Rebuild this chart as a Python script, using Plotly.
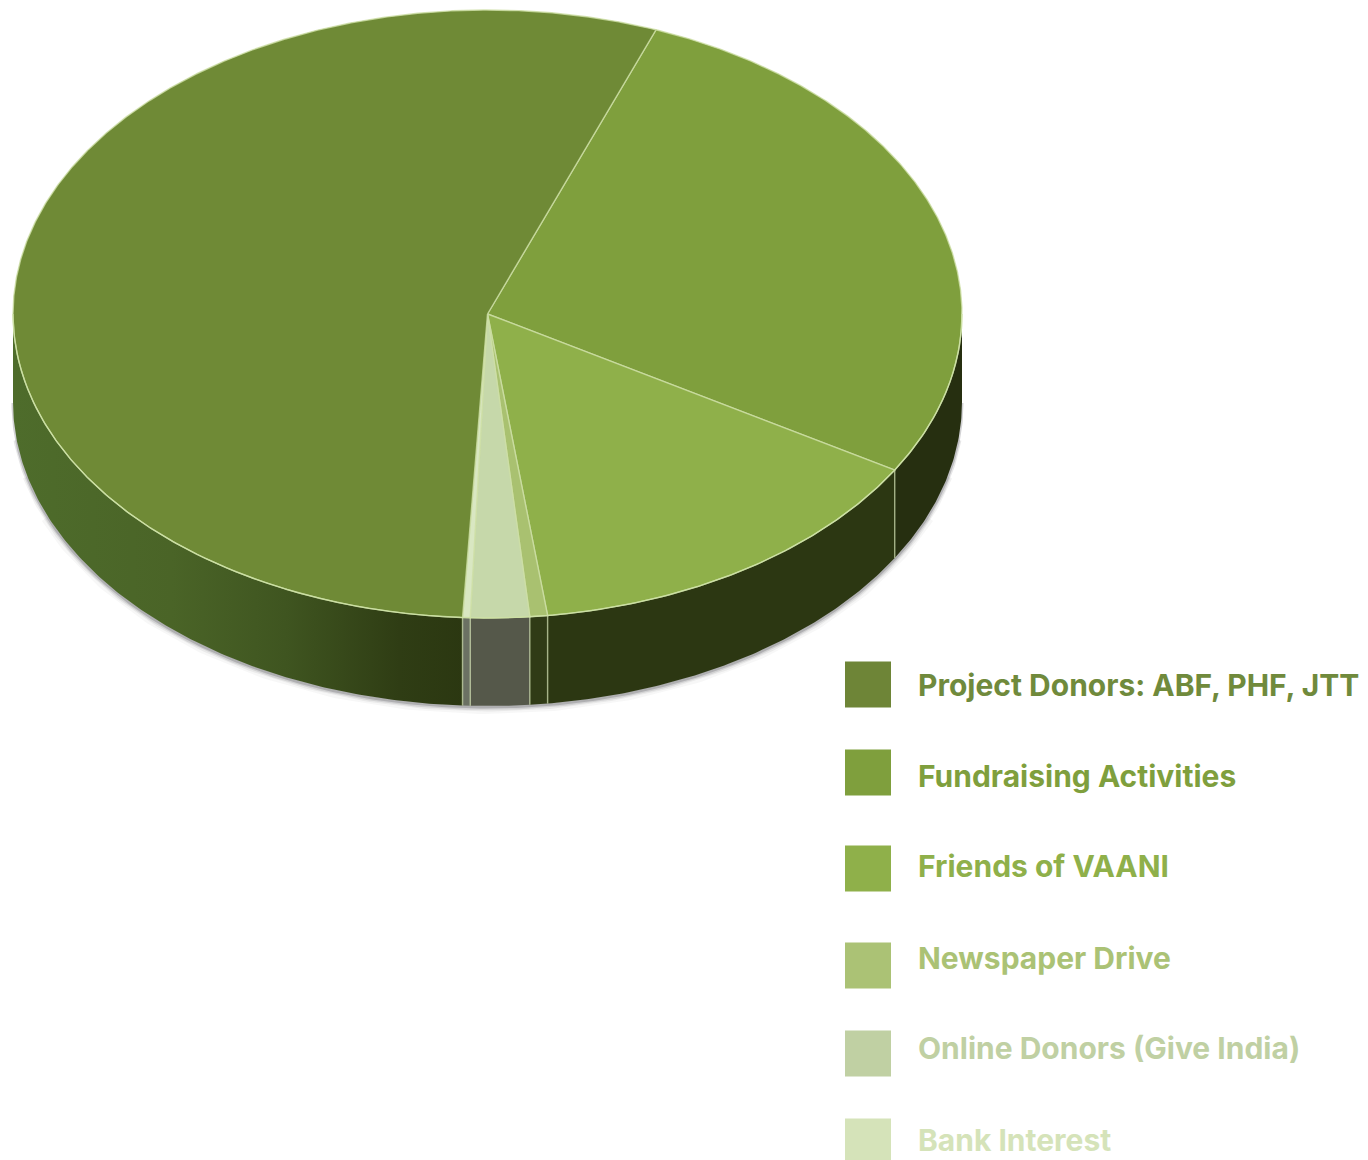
import numpy as np
import plotly.graph_objects as go

# Data (share of total)
categories = ["Fundraising Activities", "Friends of VAANI", "Newspaper Drive",
              "Online Donors (Give India)", "Bank Interest", "Project Donors: ABF, PHF, JTT"]
shares = [27.8, 14.4, 0.6, 2.0, 0.26, 54.94]
top_colors = ["#7f9f3d", "#8fb04a", "#a9c170", "#c6d8aa", "#d9e7c2", "#6f8a36"]
legend_order = ["Project Donors: ABF, PHF, JTT", "Fundraising Activities", "Friends of VAANI",
                "Newspaper Drive", "Online Donors (Give India)", "Bank Interest"]
legend_colors = ["#6e8537", "#7f9f3d", "#8fb04a", "#abc275", "#c0d0a3", "#d5e3b9"]
legend_text_colors = ["#708a3c", "#7f9f3d", "#8fb04a", "#abc275", "#c0d0a3", "#d5e3b9"]

# Geometry of the tilted disc, in page pixels
CX, CY, RX, RY, DEPTH = 487.5, 314.0, 474.5, 304.0, 88.0
START = 20.8
wall_fills = [
    "#262f10", "#2c3712", "#303b16", "#55584a", "#6b7163", None,
]
wall_lines = "rgba(205,220,170,0.65)"
MARKER_X, MARKER_Y = 868.0, [684.5, 772.5, 868.5, 965.5, 1053.5, 1141.5]
TEXT_X, TEXT_Y = 918.0, [688, 779, 869, 961, 1051, 1143]


def pt(deg, drop=0.0):
    t = np.radians(deg)
    return CX + RX * np.sin(t), CY - RY * np.cos(t) + drop


def arc(a, b, drop=0.0, step=0.5):
    n = max(2, int(abs(b - a) / step) + 1)
    return pt(np.linspace(a, b, n), drop)


edges = START + np.concatenate([[0], np.cumsum(shares) * 3.6])
fig = go.Figure()

# soft shadow along the lower outline, tapering towards the sides
for w, a, trim in [(14, 0.04, 22), (9, 0.07, 14), (6, 0.12, 7), (3, 0.22, 0)]:
    sx, sy = arc(90 + trim, 270 - trim, DEPTH + 1)
    fig.add_trace(go.Scatter(x=sx, y=sy, mode="lines", hoverinfo="skip",
                             line=dict(color=f"rgba(50,50,60,{a})", width=w)))


def wall(a, b, fill=None, gradient=None):
    a2, b2 = max(a, 90), min(b, 270)
    x1, y1 = arc(a2, b2)
    x2, y2 = arc(b2, a2, DEPTH)
    kw = dict(fillcolor=fill) if gradient is None else dict(fillgradient=gradient)
    fig.add_trace(go.Scatter(x=np.concatenate([x1, x2]), y=np.concatenate([y1, y2]),
                             mode="lines", fill="toself", line=dict(width=0),
                             hoverinfo="skip", **kw))


for i in range(5):
    wall(edges[i], edges[i + 1], fill=wall_fills[i])
wall(edges[5], edges[6], gradient=dict(
    type="horizontal", start=CX - RX, stop=CX - 20,
    colorscale=[[0, "#4e6c2b"], [0.35, "#4a6427"], [0.6, "#3f5520"], [0.85, "#2f3d14"], [1, "#2b3711"]]))

# vertical seams on the wall
for e in edges[1:6]:
    x0, y0 = pt(e)
    x1, y1 = pt(e, DEPTH)
    fig.add_trace(go.Scatter(x=[x0, x1], y=[y0, y1], mode="lines", hoverinfo="skip",
                             line=dict(color=wall_lines, width=1.5)))

# top faces
for i, name in enumerate(categories):
    x, y = arc(edges[i], edges[i + 1], step=0.25)
    fig.add_trace(go.Scatter(x=np.concatenate([[CX], x, [CX]]), y=np.concatenate([[CY], y, [CY]]),
                             mode="lines", fill="toself", fillcolor=top_colors[i], name=name,
                             line=dict(color="rgba(205,222,165,0.8)", width=1.4),
                             hoverinfo="name"))

# pale rim on the front edge
rx_, ry_ = arc(90, 270)
fig.add_trace(go.Scatter(x=rx_, y=ry_, mode="lines", hoverinfo="skip",
                         line=dict(color="rgba(205,225,165,0.9)", width=1.3)))

# legend
fig.add_trace(go.Scatter(x=[MARKER_X] * 6, y=MARKER_Y, mode="markers", hoverinfo="skip",
                         marker=dict(symbol="square", size=46, color=legend_colors, line=dict(width=0))))
fig.add_trace(go.Scatter(x=[TEXT_X] * 6, y=TEXT_Y, mode="text", text=legend_order,
                         textposition="middle right", hoverinfo="skip",
                         textfont=dict(family="Inter", size=30, color=legend_text_colors, weight="bold")))

fig.update_layout(width=1368, height=1160, margin=dict(l=0, r=0, t=0, b=0),
                  paper_bgcolor="white", plot_bgcolor="white", showlegend=False,
                  xaxis=dict(range=[0, 1368], visible=False, fixedrange=True),
                  yaxis=dict(range=[1160, 0], visible=False, fixedrange=True))
fig.write_html("out.html", config=dict(displayModeBar=False),
               post_script="document.body.style.margin='0';document.documentElement.style.overflow='hidden';")
